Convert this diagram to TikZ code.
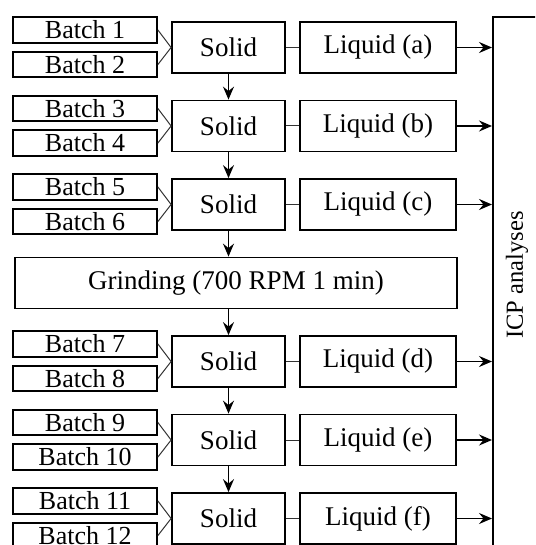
\documentclass[tikz,border=0pt]{standalone}
\usepackage{fontspec}
\setmainfont{Liberation Serif}
\usetikzlibrary{arrows.meta}
\begin{document}
\begin{tikzpicture}[x=1pt,y=-1pt,
  box/.style={draw,line width=1.8pt,inner sep=0pt,anchor=center},
  batchbox/.style={box,minimum width=144pt,minimum height=25.5pt,font=\fontsize{26}{26}\selectfont},
  solidbox/.style={box,minimum width=113pt,minimum height=51pt,font=\fontsize{27}{27}\selectfont},
  liqbox/.style={box,minimum width=156pt,minimum height=51pt,font=\fontsize{27}{27}\selectfont},
  link/.style={line width=1pt,draw=black!80},
  arr/.style={line width=1.5pt,-{Stealth[length=13pt,width=11pt,inset=4.5pt]}}
]
\clip (0,0) rectangle (535,545);
\fill[white] (0,0) rectangle (535,545);
% ICP box
\node[draw,line width=1.8pt,inner sep=0pt,minimum width=60pt,minimum height=560pt,anchor=north west] (icp) at (492,16) {};
\node[rotate=90,font=\fontsize{24.5}{24.5}\selectfont,inner sep=0pt] (icplabel) at (517,275) {ICP analyses};
% rows
\foreach \r/\yc/\ba/\bb/\lq in {1/47.5/1/2/a, 2/126/3/4/b, 3/204.5/5/6/c, 4/361.5/7/8/d, 5/440/9/10/e, 6/518.5/11/12/f}{
  \node[batchbox] (ba\r) at (85,\yc-17.5) {Batch \ba};
  \node[batchbox] (bb\r) at (85,\yc+17) {Batch \bb};
  \node[solidbox] (s\r) at (228.5,\yc) {Solid};
  \node[liqbox] (l\r) at (378,\yc) {Liquid (\lq)};
  \draw[link] (ba\r.east) -- (s\r.west) -- (bb\r.east);
  \draw[link] (s\r.east) -- (l\r.west);
  \draw[arr] (l\r.east) -- (l\r.east -| icp.west);
}
\node[box,minimum width=442pt,minimum height=51pt,font=\fontsize{27}{27}\selectfont] (grind) at (236,283) {Grinding (700 RPM 1 min)};
\draw[arr] (s1.south) -- (s2.north);
\draw[arr] (s2.south) -- (s3.north);
\draw[arr] (s3.south) -- (s3.south |- grind.north);
\draw[arr] (s3.south |- grind.south) -- (s4.north);
\draw[arr] (s4.south) -- (s5.north);
\draw[arr] (s5.south) -- (s6.north);
\end{tikzpicture}
\end{document}
